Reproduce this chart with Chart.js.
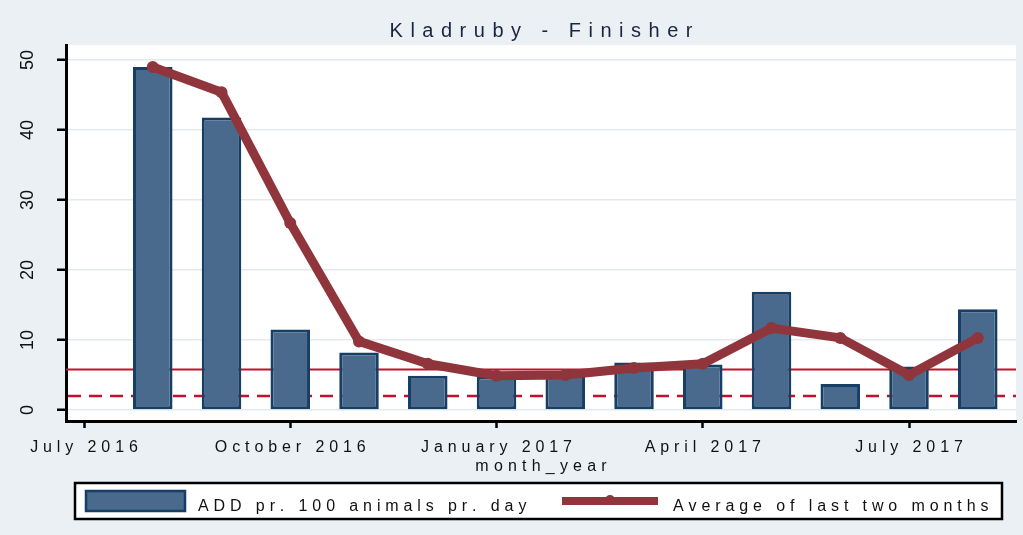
<!DOCTYPE html>
<html>
<head>
<meta charset="utf-8">
<script src="https://cdn.jsdelivr.net/npm/chart.js@4.4.1/dist/chart.umd.min.js"></script>
<style>
  body { margin: 0; background: #eaf0f3; }
  canvas { display: block; }
</style>
</head>
<body>
<canvas id="chart" width="1023" height="535"></canvas>
<script>
// data
var months = ['Aug 2016', 'Sep 2016', 'Oct 2016', 'Nov 2016', 'Dec 2016', 'Jan 2017', 'Feb 2017',
              'Mar 2017', 'Apr 2017', 'May 2017', 'Jun 2017', 'Jul 2017', 'Aug 2017'];
var monthIndex = [1, 2, 3, 4, 5, 6, 7, 8, 9, 10, 11, 12, 13]; // months since July 2016
var addValues = [49.0, 41.8, 11.5, 8.2, 4.9, 4.8, 5.2, 6.8, 6.5, 16.9, 3.7, 6.2, 14.4];
var avgValues = [49.0, 45.4, 26.7, 9.8, 6.6, 4.9, 5.0, 6.0, 6.6, 11.7, 10.3, 5.0, 10.3];
var tickValues = [0, 3, 6, 9, 12];
var tickLabels = ['July 2016', 'October 2016', 'January 2017', 'April 2017', 'July 2017'];
var yTicks = [0, 10, 20, 30, 40, 50];
var meanLine = 5.8;
var lowLine = 2.0;

var barFill = '#496a8c';
var barEdge = '#173f66';
var lineCol = '#90353b';
var refCol = '#c3102f';
var FONT = '"Liberation Sans", Arial, sans-serif';

// draw text char by char with extra spacing (Stata export look)
function spacedText(ctx, text, x, y, spacing, align) {
  var w = 0, i;
  for (i = 0; i < text.length; i++) w += ctx.measureText(text[i]).width;
  w += spacing * (text.length - 1);
  var cx = align === 'left' ? x : x - w / 2;
  ctx.textAlign = 'left';
  for (i = 0; i < text.length; i++) {
    ctx.fillText(text[i], cx, y);
    cx += ctx.measureText(text[i]).width + spacing;
  }
}

var stataLook = {
  id: 'stataLook',
  beforeDraw: function (chart) {
    var ctx = chart.ctx, a = chart.chartArea;
    ctx.save();
    ctx.fillStyle = '#eaf0f3';
    ctx.fillRect(0, 0, chart.width, chart.height);
    ctx.fillStyle = '#ffffff';
    ctx.fillRect(a.left, a.top, a.right - a.left, a.bottom - a.top);
    ctx.restore();
  },
  beforeDatasetsDraw: function (chart) {
    var ctx = chart.ctx, a = chart.chartArea, y = chart.scales.y;
    ctx.save();
    ctx.strokeStyle = refCol;
    ctx.lineWidth = 2;
    ctx.beginPath();
    ctx.moveTo(a.left, y.getPixelForValue(meanLine));
    ctx.lineTo(a.right, y.getPixelForValue(meanLine));
    ctx.stroke();
    ctx.lineWidth = 2.5;
    ctx.setLineDash([13, 8]);
    ctx.beginPath();
    ctx.moveTo(a.left + 2, y.getPixelForValue(lowLine));
    ctx.lineTo(a.right, y.getPixelForValue(lowLine));
    ctx.stroke();
    ctx.restore();
  },
  afterDraw: function (chart) {
    var ctx = chart.ctx, a = chart.chartArea;
    var xs = chart.scales.x, ys = chart.scales.y;
    ctx.save();
    ctx.textBaseline = 'alphabetic';

    // title
    ctx.fillStyle = '#1a2540';
    ctx.font = '20px ' + FONT;
    spacedText(ctx, 'Kladruby - Finisher', (a.left + a.right) / 2, 37, 7.5);

    // y tick labels, rotated
    ctx.fillStyle = '#111111';
    ctx.font = '18px ' + FONT;
    yTicks.forEach(function (v) {
      ctx.save();
      ctx.translate(33, ys.getPixelForValue(v));
      ctx.rotate(-Math.PI / 2);
      ctx.textAlign = 'center';
      ctx.fillText(String(v), 0, 0);
      ctx.restore();
    });

    // x tick labels and axis title
    ctx.font = '16px ' + FONT;
    tickValues.forEach(function (v, i) {
      spacedText(ctx, tickLabels[i], xs.getPixelForValue(v), 452, 4.9);
    });
    spacedText(ctx, 'month_year', (a.left + a.right) / 2, 471, 5.2);

    // legend box
    ctx.fillStyle = '#ffffff';
    ctx.fillRect(75, 483, 927, 36);
    ctx.strokeStyle = '#000000';
    ctx.lineWidth = 2.5;
    ctx.strokeRect(75, 483, 927, 36);

    ctx.fillStyle = barFill;
    ctx.fillRect(86, 491, 99, 20);
    ctx.strokeStyle = barEdge;
    ctx.lineWidth = 2.5;
    ctx.strokeRect(86, 491, 99, 20);

    ctx.strokeStyle = lineCol;
    ctx.lineWidth = 8;
    ctx.beginPath();
    ctx.moveTo(562, 501);
    ctx.lineTo(658, 501);
    ctx.stroke();
    ctx.fillStyle = lineCol;
    ctx.beginPath();
    ctx.arc(610, 500, 5, 0, Math.PI * 2);
    ctx.fill();

    ctx.fillStyle = '#111111';
    ctx.font = '16px ' + FONT;
    spacedText(ctx, 'ADD pr. 100 animals pr. day', 198, 511, 4.9, 'left');
    spacedText(ctx, 'Average of last two months', 673, 511, 4.9, 'left');
    ctx.restore();
  }
};

var ctx = document.getElementById('chart').getContext('2d');
var chart = new Chart(ctx, {
  type: 'bar',
  data: {
    labels: months,
    datasets: [{
      type: 'line',
      label: 'Average of last two months',
      data: monthIndex.map(function (m, i) { return { x: m, y: avgValues[i] }; }),
      borderColor: lineCol,
      backgroundColor: lineCol,
      borderWidth: 9,
      borderCapStyle: 'round',
      borderJoinStyle: 'round',
      tension: 0,
      pointRadius: 6,
      pointBackgroundColor: lineCol,
      pointBorderWidth: 0,
      pointHoverRadius: 0,
      order: 0
    }, {
      type: 'bar',
      label: 'ADD pr. 100 animals pr. day',
      data: monthIndex.map(function (m, i) { return { x: m, y: addValues[i] }; }),
      backgroundColor: barFill,
      borderColor: barEdge,
      borderWidth: 3,
      borderSkipped: false,
      categoryPercentage: 1,
      barPercentage: 0.575,
      order: 1
    }]
  },
  options: {
    responsive: false,
    animation: false,
    events: [],
    layout: { padding: { top: 45, right: 7, left: 0, bottom: 0 } },
    plugins: {
      legend: { display: false },
      title: { display: false },
      tooltip: { enabled: false }
    },
    scales: {
      x: {
        type: 'linear',
        min: -0.262,
        max: 13.556,
        offset: false,
        grid: { offset: false, drawOnChartArea: false, drawTicks: true, tickLength: 7, tickWidth: 2.5, tickColor: '#000' },
        border: { display: true, color: '#000', width: 3 },
        ticks: { display: false },
        afterBuildTicks: function (s) { s.ticks = tickValues.map(function (v) { return { value: v }; }); },
        afterFit: function (s) { s.height = 114; }
      },
      y: {
        min: -1.571,
        max: 52.14,
        grid: { color: '#e2eaee', lineWidth: 1.5, tickLength: 9, tickWidth: 2.5, tickColor: '#000' },
        border: { display: true, color: '#000', width: 3 },
        ticks: { display: false },
        afterBuildTicks: function (s) { s.ticks = yTicks.map(function (v) { return { value: v }; }); },
        afterFit: function (s) { s.width = 66; }
      }
    }
  },
  plugins: [stataLook]
});
</script>
</body>
</html>
